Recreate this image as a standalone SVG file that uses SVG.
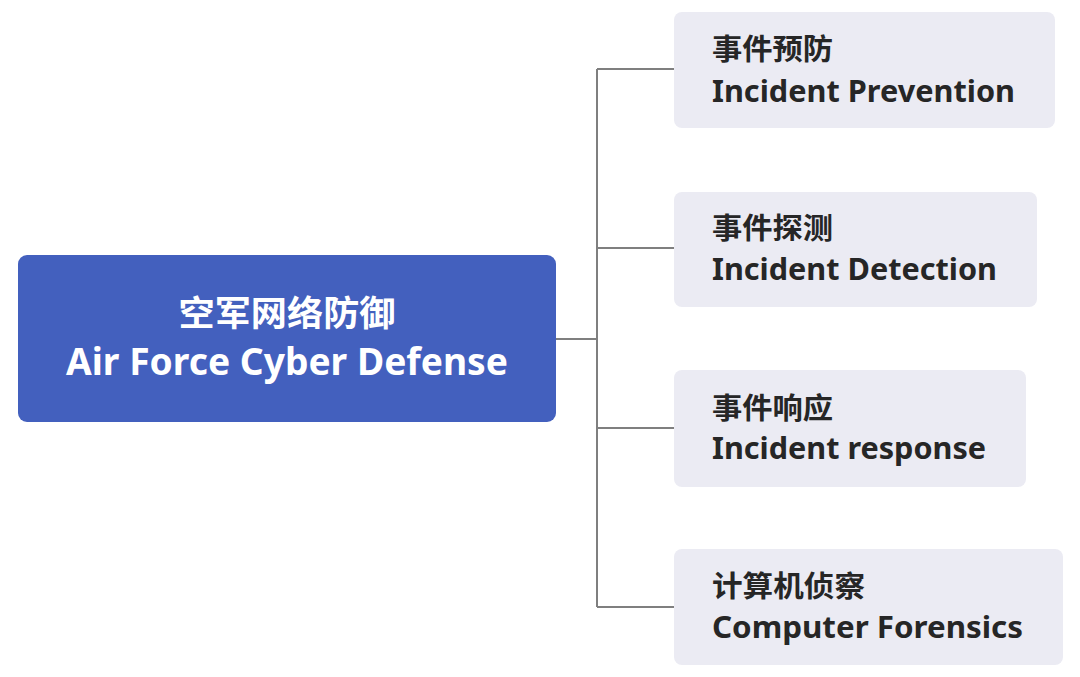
<svg xmlns="http://www.w3.org/2000/svg" width="1080" height="677" viewBox="0 0 1080 677">
<style>
.bg{fill:#ffffff}
.main{fill:#4360BE}
.child{fill:#EBEBF3}
.conn{fill:none;stroke:#7f7f7f;stroke-width:2}
.zh{font-family:"Noto Sans CJK SC","Noto Sans",sans-serif;font-weight:bold}
.en{font-family:"Noto Sans","Open Sans","Liberation Sans",sans-serif;font-weight:bold}
.dark{fill:#262626}
.white{fill:#ffffff}
</style>
<rect class="bg" x="0" y="0" width="1080" height="677"/>
<g id="connectors">
<path class="conn" d="M556 339 H597 M597 69 V607 M597 69 H674 M597 248 H674 M597 428 H674 M597 607 H674"/>
</g>
<g id="root">
<rect class="main" x="18" y="255" width="538" height="167" rx="9"/>
<text class="zh white" x="287" y="326" font-size="35" text-anchor="middle" textLength="217" lengthAdjust="spacingAndGlyphs">空军网络防御</text>
<text class="en white" x="287" y="375" font-size="38" text-anchor="middle" textLength="442" lengthAdjust="spacingAndGlyphs">Air Force Cyber Defense</text>
</g>
<g id="n1">
<rect class="child" x="674" y="12" width="381" height="116" rx="8"/>
<text class="zh dark" x="712" y="60" font-size="29" textLength="121" lengthAdjust="spacingAndGlyphs">事件预防</text>
<text class="en dark" x="712" y="102" font-size="31" textLength="303" lengthAdjust="spacingAndGlyphs">Incident Prevention</text>
</g>
<g id="n2">
<rect class="child" x="674" y="192" width="363" height="115" rx="8"/>
<text class="zh dark" x="712" y="239" font-size="29" textLength="121" lengthAdjust="spacingAndGlyphs">事件探测</text>
<text class="en dark" x="712" y="280" font-size="31" textLength="285" lengthAdjust="spacingAndGlyphs">Incident Detection</text>
</g>
<g id="n3">
<rect class="child" x="674" y="370" width="352" height="117" rx="8"/>
<text class="zh dark" x="712" y="419" font-size="29" textLength="121" lengthAdjust="spacingAndGlyphs">事件响应</text>
<text class="en dark" x="712" y="459" font-size="31" textLength="274" lengthAdjust="spacingAndGlyphs">Incident response</text>
</g>
<g id="n4">
<rect class="child" x="674" y="549" width="389" height="116" rx="8"/>
<text class="zh dark" x="712" y="597" font-size="29" textLength="153" lengthAdjust="spacingAndGlyphs">计算机侦察</text>
<text class="en dark" x="712" y="638" font-size="31" textLength="311" lengthAdjust="spacingAndGlyphs">Computer Forensics</text>
</g>
</svg>
